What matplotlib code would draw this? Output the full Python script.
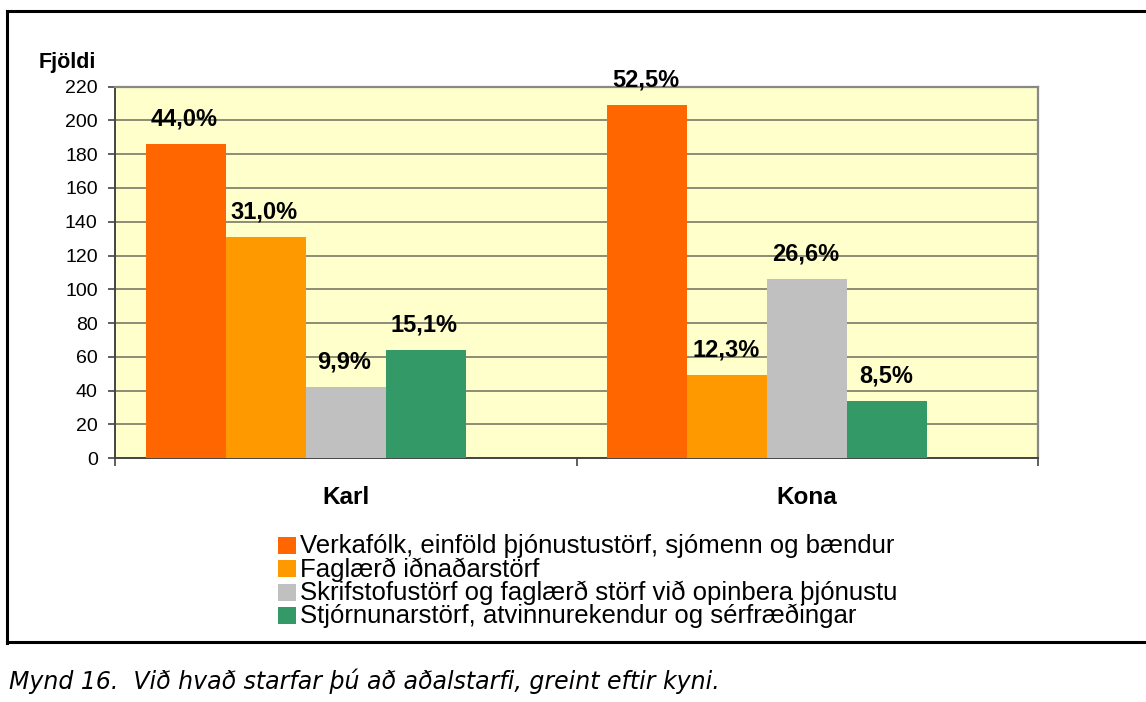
import numpy as np
import matplotlib
matplotlib.use("Agg")
import matplotlib.pyplot as plt
from matplotlib.lines import Line2D
from matplotlib.patches import Rectangle

# data
groups = ["Karl", "Kona"]
categories = [
    "Verkafólk, einföld þjónustustörf, sjómenn og bændur",
    "Faglærð iðnaðarstörf",
    "Skrifstofustörf og faglærð störf við opinbera þjónustu",
    "Stjórnunarstörf, atvinnurekendur og sérfræðingar",
]
karl = [186, 131, 42, 64]
kona = [209, 49, 106, 34]
colors = ["#FF6600", "#FF9900", "#C0C0C0", "#339966"]
yticks = list(range(0, 221, 20))
caption = "Mynd 16.  Við hvað starfar þú að aðalstarfi, greint eftir kyni."

plt.rcParams["font.family"] = ["Liberation Sans", "DejaVu Sans"]

W, H = 1146, 702
fig = plt.figure(figsize=(W / 100, H / 100), dpi=100)

def fx(px):
    return px / W

def fy(py):
    return 1 - py / H

# plot area
left, right, top, bottom = 115, 1038, 86.5, 458.3
ax = fig.add_axes([fx(left), fy(bottom), fx(right - left), (bottom - top) / H])
ax.set_facecolor("#FFFFCC")

data = np.array([karl, kona])
x = np.arange(len(groups))
bw = 80 / ((right - left) / 2)

for j in range(len(categories)):
    xs = x + (j - 2) * bw
    vals = data[:, j]
    ax.bar(xs, vals, width=bw, color=colors[j], zorder=3)
    for k in range(len(groups)):
        pct = vals[k] / data[k].sum() * 100
        lab = f"{pct:.1f}%".replace(".", ",")
        ax.annotate(lab, (xs[k], vals[k]), xytext=(-1, 13.5), textcoords="offset points",
                    ha="center", va="baseline", fontsize=17, fontweight="bold", zorder=4)

ax.set_xlim(-0.5, 1.5)
ax.set_ylim(0, 220)
ax.set_yticks(yticks)
ax.set_yticklabels([str(v) for v in yticks], fontsize=14)
ax.tick_params(axis="y", direction="out", length=5, width=1.2, color="#444444", pad=7.5)
ax.set_xticks([-0.5, 0.5, 1.5])
ax.set_xticklabels([])
ax.tick_params(axis="x", direction="out", length=6, width=1.2, color="#444444")
ax.yaxis.grid(True, color="#6E6E5E", linewidth=1.1, zorder=1)
ax.set_axisbelow(True)

for s in ["top", "right"]:
    ax.spines[s].set_color("#888888")
    ax.spines[s].set_linewidth(1.6)
for s in ["left", "bottom"]:
    ax.spines[s].set_color("#444444")
    ax.spines[s].set_linewidth(1.4)

for k, g in enumerate(groups):
    ax.text(x[k], -0.123, g, transform=ax.get_xaxis_transform(), ha="center",
            va="baseline", fontsize=17.5, fontweight="bold")

fig.text(fx(39), fy(68), "Fjöldi", ha="left", va="baseline", fontsize=15.5, fontweight="bold")

# legend
for j, c in enumerate(categories):
    yc = 545 + j * 23.5
    fig.add_artist(Rectangle((fx(278), fy(yc + 8.5)), fx(17.5), 17 / H, transform=fig.transFigure,
                             facecolor=colors[j], edgecolor="none"))
    fig.text(fx(300), fy(yc + 8), c, ha="left", va="baseline", fontsize=18.5)

# frame
lw = 2.2
fig.add_artist(Line2D([fx(7), fx(7)], [fy(11), fy(643)], color="black", lw=lw))
fig.add_artist(Line2D([fx(7), 1], [fy(11), fy(11)], color="black", lw=lw))
fig.add_artist(Line2D([fx(7), 1], [fy(642), fy(642)], color="black", lw=lw))

fig.text(fx(9), fy(689), caption, ha="left", va="baseline", fontsize=17, style="italic",
         family="DejaVu Sans")

fig.savefig("out.png", dpi=100)
